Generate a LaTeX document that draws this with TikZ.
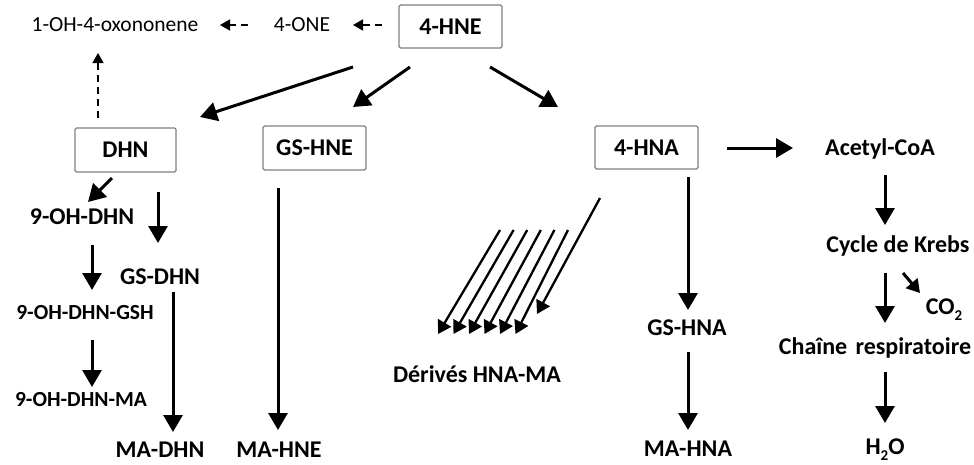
\documentclass[tikz,border=0pt]{standalone}
\usepackage{fontspec}
\setmainfont{Carlito}
\usetikzlibrary{arrows.meta,calc}
\begin{document}
\begin{tikzpicture}[x=1pt,y=-1pt,
  big/.style={font=\fontsize{24}{28}\selectfont\bfseries, inner sep=0pt, text height=15.5pt, text depth=0pt},
  small/.style={font=\fontsize{21.5}{26}\selectfont\bfseries, inner sep=0pt, text height=13.8pt, text depth=0pt},
  reg/.style={font=\fontsize{21.5}{26}\selectfont, inner sep=0pt, text height=13.8pt, text depth=0pt},
  boxed/.style={big, draw={rgb,255:red,128;green,128;blue,128}, line width=1.3pt, rounded corners=1.5pt, fill=white, minimum height=43pt},
  arr/.style={line width=3pt, -{Triangle[length=17pt,width=19pt]}},
  thinarr/.style={line width=2.3pt, -{Triangle[length=13pt,width=15pt]}},
  smallarr/.style={line width=3pt, -{Triangle[length=13pt,width=15pt]}},
  darr/.style={line width=1.5pt, dash pattern=on 7pt off 5pt, -{Triangle[length=10pt,width=11pt]}}
]
\useasboundingbox (0,0) rectangle (974,464);
% nodes
\node[boxed, minimum width=103pt] (hne) at (450.5,26.5) {4-HNE};
\node[reg] (one) at (302,25) {4-ONE};
\node[reg] (oxo) at (115,25) {1-OH-4-oxononene};
\node[boxed, minimum width=101pt, minimum height=44pt] (dhn) at (125.5,150) {DHN};
\node[boxed, minimum width=103pt, minimum height=44pt] (gshne) at (314.5,148) {GS-HNE};
\node[boxed, minimum width=103pt] (hna) at (646.5,147.5) {4-HNA};
\node[big] (acetyl) at (880,148) {Acetyl-CoA};
\node[big] (ohdhn) at (82,217) {9-OH-DHN};
\node[big] (gsdhn) at (160,277) {GS-DHN};
\node[small] (ohgsh) at (85,313) {9-OH-DHN-GSH};
\node[small] (ohma) at (81,400) {9-OH-DHN-MA};
\node[big] (madhn) at (160,450) {MA-DHN};
\node[big] (mahne) at (279,450) {MA-HNE};
\node[big] (derives) at (477,375) {Dérivés HNA-MA};
\node[big] (gshna) at (687,328) {GS-HNA};
\node[big] (mahna) at (688,449) {MA-HNA};
\node[big] (krebs) at (898,245) {Cycle de Krebs};
\node[big] (co2) at (944,307) {CO\raisebox{-0.22em}{\fontsize{15}{15}\selectfont 2}};
\node[big] (chaine) at (875,347) {Chaîne\hspace{0.12em} respiratoire};
\node[big] (h2o) at (885,447) {H\raisebox{-0.22em}{\fontsize{15}{15}\selectfont 2}O};
% dashed connectors
\draw[darr] ($(hne.center)+(-68.5,-1.5)$) -- ($(one.center)+(51,0)$);
\draw[darr] ($(one.center)+(-54,0)$) -- ($(oxo.center)+(105,0)$);
\draw[darr] ($(dhn.center)+(-27.5,-32)$) -- ($(oxo.center)+(-17,28)$);
% main connectors
\draw[arr] ($(hne.center)+(-97.5,40.5)$) -- ($(dhn.center)+(74.5,-33)$);
\draw[arr] ($(hne.center)+(-40.5,40.5)$) -- ($(gshne.center)+(38.5,-41)$);
\draw[arr] ($(hne.center)+(39.5,40.5)$) -- ($(hna.center)+(-88.5,-40.5)$);
\draw[arr] ($(hna.center)+(80.5,0.5)$) -- ($(acetyl.center)+(-87,0)$);
\draw[arr] ($(dhn.center)+(-13.5,28)$) -- ($(ohdhn.center)+(6,-15)$);
\draw[arr] ($(dhn.center)+(32.5,42)$) -- ($(gsdhn.center)+(-2,-34)$);
\draw[arr] ($(ohdhn.center)+(10,28)$) -- ($(ohgsh.center)+(7,-23)$);
\draw[arr] ($(ohgsh.center)+(7,27)$) -- ($(ohma.center)+(11,-13)$);
\draw[arr] ($(gsdhn.center)+(13,15)$) -- ($(madhn.center)+(13,-18)$);
\draw[arr] ($(gshne.center)+(-36.5,40)$) -- ($(mahne.center)+(-1,-20)$);
\draw[arr] ($(hna.center)+(41.5,29.5)$) -- ($(gshna.center)+(1,-18)$);
\draw[arr] ($(gshna.center)+(1,24)$) -- ($(mahna.center)+(0,-19)$);
\draw[arr] ($(acetyl.center)+(5,27)$) -- ($(krebs.center)+(-13,-20)$);
\draw[arr] ($(krebs.center)+(-13,28)$) -- ($(chaine.center)+(10,-24)$);
\draw[smallarr] ($(krebs.center)+(5,28)$) -- ($(co2.center)+(-24,-14)$);
\draw[arr] ($(chaine.center)+(10,25)$) -- ($(h2o.center)+(0,-24)$);
% bundle of arrows to HNA-MA derivatives
\draw[thinarr] ($(hna.center)+(-46.5,50.5)$) -- ($(derives.center)+(60,-61)$);
\foreach \i in {0,...,5}{
  \draw[thinarr] ($(hna.center)+(-146.5+13.6*\i,82.5)$) -- ($(derives.center)+(-39+15.5*\i,-41)$);
}
\end{tikzpicture}
\end{document}
